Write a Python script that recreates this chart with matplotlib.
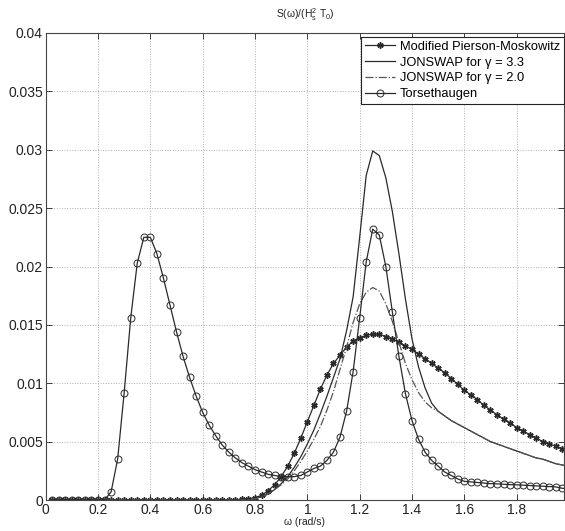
import numpy as np
import matplotlib
matplotlib.use("Agg")
import matplotlib.pyplot as plt

plt.rcParams['font.family'] = ['Liberation Sans', 'DejaVu Sans']
plt.rcParams['mathtext.fontset'] = 'custom'
plt.rcParams['mathtext.rm'] = 'Liberation Sans'
plt.rcParams['mathtext.it'] = 'Liberation Sans'

# frequency grid (rad/s)
omega = np.linspace(0.025, 2.0, 80)

pm = [0]*29 + [
    0.00005, 0.0001, 0.0002, 0.0004, 0.0008, 0.0013, 0.0020, 0.0029, 0.0040, 0.0053,
    0.0067, 0.0081, 0.0095, 0.0107, 0.0117, 0.0124, 0.0131, 0.0136, 0.0139, 0.0141,
    0.0142, 0.0142, 0.0140, 0.0138, 0.0135, 0.0132, 0.0129, 0.0125, 0.0121, 0.0117,
    0.0113, 0.0109, 0.0104, 0.0099, 0.0094, 0.0090, 0.0086, 0.0081, 0.0077, 0.0073,
    0.0069, 0.0066, 0.0062, 0.0059, 0.0056, 0.0053, 0.0050, 0.0048, 0.0046, 0.0044,
    0.0042]

jonswap33 = [0]*30 + [
    0.00005, 0.0001, 0.0003, 0.0005, 0.0009, 0.0014, 0.0020, 0.0028, 0.0037,
    0.0048, 0.0060, 0.0074, 0.0089, 0.0105, 0.0121, 0.0145, 0.0174, 0.0225, 0.0278,
    0.0299, 0.0295, 0.0276, 0.0247, 0.0211, 0.0172, 0.0138, 0.0114, 0.0096, 0.0083,
    0.0076, 0.0072, 0.0068, 0.0065, 0.0062, 0.0059, 0.0056, 0.0053, 0.0050, 0.0048,
    0.0046, 0.0044, 0.0042, 0.0040, 0.0038, 0.0036, 0.0035, 0.0033, 0.0031, 0.0030,
    0.0028]

jonswap20 = [0]*30 + [
    0.00005, 0.0001, 0.0003, 0.0005, 0.0009, 0.0013, 0.0018, 0.0025, 0.0033,
    0.0042, 0.0052, 0.0063, 0.0077, 0.0093, 0.0112, 0.0131, 0.0152, 0.0168, 0.0178,
    0.0182, 0.0179, 0.0168, 0.0153, 0.0135, 0.0117, 0.0103, 0.0092, 0.0084, 0.0079,
    0.0076, 0.0072, 0.0068, 0.0065, 0.0062, 0.0059, 0.0056, 0.0053, 0.0050, 0.0048,
    0.0046, 0.0044, 0.0042, 0.0040, 0.0038, 0.0036, 0.0035, 0.0033, 0.0031, 0.0030,
    0.0028]

torset = [0]*9 + [
    0.0007, 0.0035, 0.0092, 0.0156, 0.0203, 0.0225, 0.0225, 0.0211, 0.0190, 0.0167,
    0.0144, 0.0123, 0.0105, 0.0089, 0.0075, 0.0064, 0.0055, 0.0047, 0.0041, 0.0036,
    0.0032, 0.0029, 0.0026, 0.0024, 0.0022, 0.0021, 0.0020, 0.0020, 0.0020, 0.0021,
    0.0024, 0.0027, 0.0029, 0.0034, 0.0041, 0.0054, 0.0076, 0.0110, 0.0156, 0.0204,
    0.0232, 0.0227, 0.0200, 0.0161, 0.0123, 0.0091, 0.0068, 0.0052, 0.0041, 0.0034,
    0.0029, 0.0024, 0.0021, 0.0018, 0.0016, 0.00155, 0.0015, 0.00145, 0.0014, 0.00138,
    0.00135, 0.00132, 0.0013, 0.00127, 0.00124, 0.00121, 0.00118, 0.00115, 0.00112, 0.0010,
    0.00098]

labels = ['Modified Pierson-Moskowitz', 'JONSWAP for γ = 3.3',
          'JONSWAP for γ = 2.0', 'Torsethaugen']
xticks = [0, 0.2, 0.4, 0.6, 0.8, 1, 1.2, 1.4, 1.6, 1.8]
xticklabels = ['0', '0.2', '0.4', '0.6', '0.8', '1', '1.2', '1.4', '1.6', '1.8']
yticks = [0, 0.005, 0.01, 0.015, 0.02, 0.025, 0.03, 0.035, 0.04]
yticklabels = ['0', '0.005', '0.01', '0.015', '0.02', '0.025', '0.03', '0.035', '0.04']

W, H = 565, 531
fig = plt.figure(figsize=(W/100, H/100), dpi=100)
ax = fig.add_axes([45.7/W, 1-500/H, (564-45.7)/W, (500-33)/H])

lc = '#2a2a2a'
ax.plot(omega, pm, '-', color=lc, lw=0.9, marker=(6, 2, 0), ms=4.5, mew=1.1,
        mfc=lc, mec=lc, label=labels[0])
ax.plot(omega, jonswap33, '-', color=lc, lw=0.9, label=labels[1])
ax.plot(omega, jonswap20, '-.', color='#555555', lw=0.9, label=labels[2])
ax.plot(omega, torset, '-', color=lc, lw=0.9, marker='o', ms=5, mfc='none', mec=lc,
        mew=0.7, label=labels[3])

ax.set_xlim(0, 1.981)
ax.set_ylim(0, 0.04)
ax.set_xticks(xticks)
ax.set_xticklabels(xticklabels)
ax.set_yticks(yticks)
ax.set_yticklabels(yticklabels)
ax.tick_params(direction='in', top=True, right=True, length=4, width=0.6,
               labelsize=10, colors='#222222', pad=2)
ax.grid(True, linestyle=':', color='#b0b0b0', lw=0.7)
for s in ax.spines.values():
    s.set_color('#444444')
    s.set_linewidth(0.8)

ax.set_title('S(ω)/(H$_s^2$ T$_0$)', fontsize=7.5, pad=11, color='#222222')
ax.set_xlabel('ω (rad/s)', fontsize=7.5, labelpad=0, color='#222222')

leg = ax.legend(loc='upper right', bbox_to_anchor=(1.0, 0.992), fontsize=9.3,
                numpoints=1, handlelength=2.3, borderaxespad=0.0,
                fancybox=False, framealpha=1, edgecolor='#222222',
                borderpad=0.3, labelspacing=0.3, handletextpad=0.4)
leg.get_frame().set_linewidth(0.8)

fig.savefig('out.png', dpi=100)
